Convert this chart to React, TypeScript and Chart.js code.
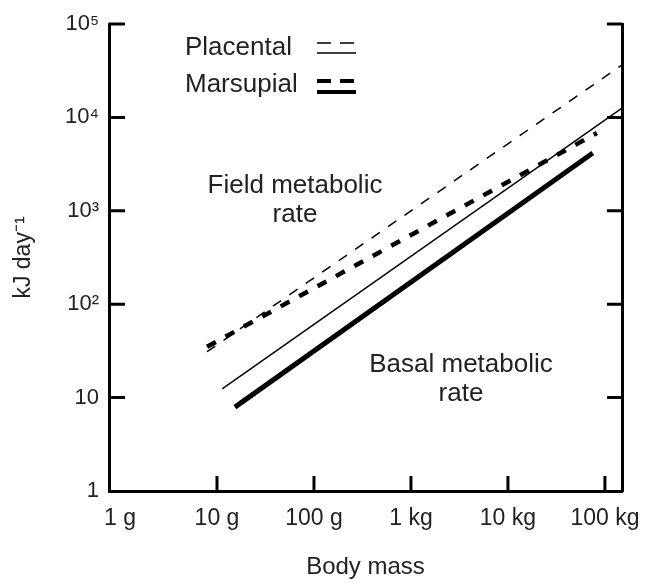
import React, { useEffect, useRef } from "react";
import { Chart, registerables } from "chart.js";

Chart.register(...registerables);

// ---- Data (body mass in grams, rate in kJ/day) ----
const X_TICKS = [1, 10, 100, 1000, 10000, 100000];
const X_TICK_LABELS = ["1 g", "10 g", "100 g", "1 kg", "10 kg", "100 kg"];
const Y_TICKS = [1, 10, 100, 1000, 10000, 100000];
const Y_TICK_LABELS = ["1", "10", "10²", "10³", "10⁴", "10⁵"];
const X_MIN = 0.77;
const X_MAX = 150000;
const Y_MIN = 1;
const Y_MAX = 100000;

const PLACENTAL_FMR_MASS = [7.9, 150000];
const PLACENTAL_FMR_KJ = [31, 36400];
const MARSUPIAL_FMR_MASS = [7.9, 82700];
const MARSUPIAL_FMR_KJ = [35, 6800];
const PLACENTAL_BMR_MASS = [11.3, 150000];
const PLACENTAL_BMR_KJ = [12.4, 12600];
const MARSUPIAL_BMR_MASS = [15.3, 75000];
const MARSUPIAL_BMR_KJ = [7.9, 4150];

const LEGEND_LABELS = ["Placental", "Marsupial"];
const FIELD_LABEL = ["Field metabolic", "rate"];
const BASAL_LABEL = ["Basal metabolic", "rate"];
const X_TITLE = "Body mass";
const Y_TITLE = "kJ day⁻¹";

const FONT = '"Liberation Sans", Arial, Helvetica, sans-serif';
const TEXT_COLOR = "#222";

const pts = (xs: number[], ys: number[]) => xs.map((x, i) => ({ x, y: ys[i] }));

const overlayPlugin = {
  id: "overlay",
  afterDraw(chart: any) {
    const { ctx, chartArea: a, scales } = chart;
    ctx.save();
    // inward tick marks
    ctx.strokeStyle = "#000";
    ctx.lineWidth = 3;
    ctx.setLineDash([]);
    ctx.beginPath();
    X_TICKS.forEach((v, i) => {
      if (i === 0) return;
      const px = scales.x.getPixelForValue(v);
      ctx.moveTo(px, a.bottom);
      ctx.lineTo(px, a.bottom - 15);
    });
    Y_TICKS.forEach((v, i) => {
      if (i === 0) return;
      const py = scales.y.getPixelForValue(v);
      ctx.moveTo(a.left, py);
      ctx.lineTo(a.left + 16, py);
      ctx.moveTo(a.right - 15, py);
      ctx.lineTo(a.right, py);
    });
    ctx.stroke();

    // legend
    ctx.fillStyle = TEXT_COLOR;
    ctx.font = `26px ${FONT}`;
    ctx.textAlign = "left";
    ctx.textBaseline = "alphabetic";
    ctx.fillText(LEGEND_LABELS[0], 185, 55);
    ctx.fillText(LEGEND_LABELS[1], 185, 92);

    ctx.strokeStyle = "#000";
    // placental sample
    ctx.lineWidth = 1.5;
    ctx.setLineDash([14, 9]);
    ctx.beginPath();
    ctx.moveTo(317, 43);
    ctx.lineTo(356, 43);
    ctx.stroke();
    ctx.setLineDash([]);
    ctx.beginPath();
    ctx.moveTo(317, 53);
    ctx.lineTo(356, 53);
    ctx.stroke();
    // marsupial sample
    ctx.lineWidth = 4;
    ctx.setLineDash([14, 9]);
    ctx.beginPath();
    ctx.moveTo(317, 81);
    ctx.lineTo(356, 81);
    ctx.stroke();
    ctx.setLineDash([]);
    ctx.beginPath();
    ctx.moveTo(317, 92);
    ctx.lineTo(356, 92);
    ctx.stroke();

    // annotations
    ctx.fillStyle = TEXT_COLOR;
    ctx.textAlign = "center";
    ctx.fillText(FIELD_LABEL[0], 295, 193);
    ctx.fillText(FIELD_LABEL[1], 295, 222);
    ctx.fillText(BASAL_LABEL[0], 461, 372);
    ctx.fillText(BASAL_LABEL[1], 461, 401);
    ctx.restore();
  },
};

export default function App() {
  const canvasRef = useRef<HTMLCanvasElement | null>(null);

  useEffect(() => {
    const canvas = canvasRef.current;
    if (!canvas) return;
    const chart = new Chart(canvas, {
      type: "line",
      data: {
        datasets: [
          {
            label: "Placental FMR",
            data: pts(PLACENTAL_FMR_MASS, PLACENTAL_FMR_KJ),
            borderColor: "#000",
            borderWidth: 1.5,
            borderDash: [10, 10],
            pointRadius: 0,
            fill: false,
          },
          {
            label: "Marsupial FMR",
            data: pts(MARSUPIAL_FMR_MASS, MARSUPIAL_FMR_KJ),
            borderColor: "#000",
            borderWidth: 4.5,
            borderDash: [10, 11],
            pointRadius: 0,
            fill: false,
          },
          {
            label: "Placental BMR",
            data: pts(PLACENTAL_BMR_MASS, PLACENTAL_BMR_KJ),
            borderColor: "#000",
            borderWidth: 1.5,
            pointRadius: 0,
            fill: false,
          },
          {
            label: "Marsupial BMR",
            data: pts(MARSUPIAL_BMR_MASS, MARSUPIAL_BMR_KJ),
            borderColor: "#000",
            borderWidth: 5,
            pointRadius: 0,
            fill: false,
          },
        ],
      },
      options: {
        animation: false,
        responsive: true,
        maintainAspectRatio: false,
        layout: { padding: { top: 24, left: 0, right: 0, bottom: 0 } },
        plugins: {
          legend: { display: false },
          tooltip: { enabled: false },
        },
        scales: {
          x: {
            type: "logarithmic",
            position: "bottom",
            min: X_MIN,
            max: X_MAX,
            afterBuildTicks: (s: any) => {
              s.ticks = X_TICKS.map((v) => ({ value: v }));
            },
            afterFit: (s: any) => {
              s.height = 91;
              s.paddingLeft = 0;
              s.paddingRight = 0;
            },
            grid: { display: false, drawTicks: false },
            border: { display: true, color: "#000", width: 3 },
            ticks: {
              autoSkip: false,
              maxRotation: 0,
              padding: 14,
              color: TEXT_COLOR,
              font: { family: FONT, size: 23 },
              callback: (value: any) => {
                const i = X_TICKS.indexOf(Number(value));
                return i >= 0 ? X_TICK_LABELS[i] : "";
              },
            },
            title: {
              display: true,
              text: X_TITLE,
              color: TEXT_COLOR,
              font: { family: FONT, size: 24 },
              padding: { top: 0, bottom: 0 },
            },
          },
          y: {
            type: "logarithmic",
            position: "left",
            min: Y_MIN,
            max: Y_MAX,
            afterBuildTicks: (s: any) => {
              s.ticks = Y_TICKS.map((v) => ({ value: v }));
            },
            afterFit: (s: any) => {
              s.width = 109;
              s.paddingTop = 0;
              s.paddingBottom = 0;
            },
            grid: { display: false, drawTicks: false },
            border: { display: true, color: "#000", width: 3 },
            ticks: {
              autoSkip: false,
              padding: 10,
              color: TEXT_COLOR,
              font: { family: FONT, size: 22 },
              callback: (value: any) => {
                const i = Y_TICKS.indexOf(Number(value));
                return i >= 0 ? Y_TICK_LABELS[i] : "";
              },
            },
            title: {
              display: true,
              text: Y_TITLE,
              color: TEXT_COLOR,
              font: { family: FONT, size: 23 },
              padding: { top: 10, bottom: 0 },
            },
          },
          y2: {
            type: "logarithmic",
            position: "right",
            min: Y_MIN,
            max: Y_MAX,
            afterFit: (s: any) => {
              s.width = 23;
              s.paddingTop = 0;
              s.paddingBottom = 0;
            },
            grid: { display: false, drawTicks: false },
            border: { display: true, color: "#000", width: 3 },
            ticks: { display: false },
          },
        },
      },
      plugins: [overlayPlugin],
    });
    return () => chart.destroy();
  }, []);

  return (
    <div style={{ position: "absolute", left: 0, top: 0, width: 645, height: 582, background: "#fff" }}>
      <canvas ref={canvasRef} />
    </div>
  );
}
